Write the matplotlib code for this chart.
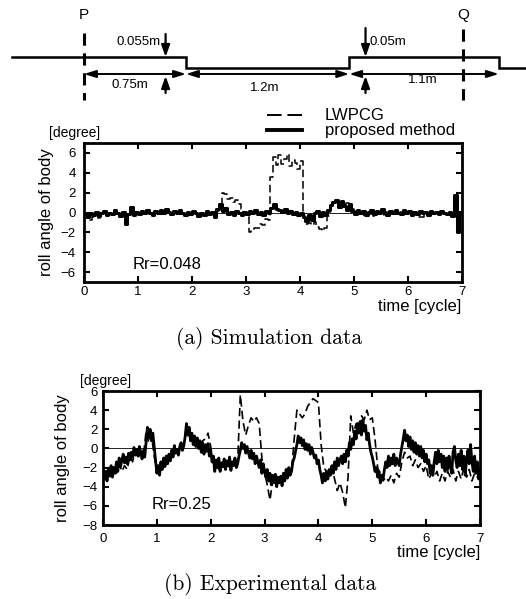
import numpy as np
import matplotlib
matplotlib.use("Agg")
import matplotlib.pyplot as plt

plt.rcParams['font.family'] = ['Liberation Sans', 'DejaVu Sans']

# === ROAD PROFILE SKETCH ===
seg_lengths = [0.75, 1.2, 1.1]          # m, from P
seg_labels = ["0.75m", "1.2m", "1.1m"]
bump_labels = ["0.055m", "0.05m"]
bump_arrow_pos = [0.60, 2.07]           # m from P
q_pos = 2.79                            # m from P

# === (a) SIMULATION DATA, roll angle [deg], every 0.05 cycle ===
sim_lwpcg = [
    -0.6, -0.4, -0.8, -0.5, -0.3, -0.6, -0.2, -0.1, -0.3, 0.0,
    -0.2, 0.1, -0.1, -0.3, -0.2, -0.6, -0.2, 0.2, -0.2, 0.0,
    -0.1, 0.1, -0.2, 0.1, -0.1, -0.2, 0.1, -0.1, 0.2, 0.0,
    0.3, 0.0, -0.1, 0.1, -0.2, 0.1, -0.1, -0.2, 0.0, -0.1,
    0.1, -0.2, -0.3, -0.1, -0.4, 0.0, -0.3, -0.1, -0.4, 0.2,
    0.4, 2.0, 1.9, 1.4, 1.5, 1.1, 1.3, 0.9, 0.4, -0.3,
    -0.5, -2.0, -1.9, -1.6, -1.6, -1.2, -1.3, -0.7, -0.8, 3.6,
    5.6, 4.8, 5.8, 4.9, 5.4, 5.9, 4.7, 5.3, 5.0, 4.4,
    5.2, -0.4, -1.2, -1.1, -1.3, -1.0, -1.5, -1.7, -1.9, -1.6,
    -0.4, 0.6, 1.0, 1.2, 0.9, 1.1, 0.8, 1.0, 0.7, 0.4,
    0.1, -0.2, 0.0, -0.3, -0.1, 0.1, -0.2, -0.4, -0.1, 0.1,
    -0.3, -0.1, 0.1, -0.2, 0.0, -0.3, -0.1, 0.1, -0.2, 0.0,
    -0.1, -0.3, -0.1, -0.4, -0.5, -0.5, -0.2, 0.0, -0.2, -0.1,
    0.0, -0.2, 0.1, -0.1, -0.2, 0.0, -0.1, 0.2, -0.2, 0.0,
    -0.1]
sim_proposed = [
    -0.2, -0.5, 0.0, -0.3, 0.1, -0.4, -0.1, 0.2, -0.3, 0.0,
    -0.2, 0.3, -0.1, -0.4, 0.1, -1.2, -0.2, 0.6, -0.3, 0.1,
    -0.2, 0.2, -0.1, 0.3, 0.0, -0.3, 0.2, -0.1, 0.3, 0.0,
    0.4, 0.1, -0.2, 0.2, -0.1, 0.3, 0.0, -0.3, 0.1, -0.2,
    0.2, -0.1, -0.4, 0.0, -0.3, 0.2, -0.2, 0.1, -0.5, 0.4,
    0.9, 0.2, 0.5, -0.2, 0.1, -0.3, 0.2, -0.1, -0.3, 0.1,
    -0.2, 0.2, -0.1, 0.3, -0.2, 0.1, -0.3, 0.2, 0.0, 0.5,
    0.9, 0.4, 0.3, 0.1, 0.4, -0.1, 0.2, -0.2, 0.1, -0.3,
    0.0, -0.5, -0.9, -0.3, -0.8, -0.1, 0.2, -0.4, 0.1, -0.3,
    0.3, 0.8, 1.1, 1.3, 0.6, 1.2, 0.7, 0.3, 0.9, 0.2,
    -0.2, 0.3, -0.1, 0.2, -0.3, 0.1, 0.3, -0.2, 0.2, -0.1,
    0.4, 0.0, -0.3, 0.2, -0.1, 0.3, 0.0, -0.2, 0.3, -0.1,
    0.2, -0.3, 0.1, -0.2, 0.2, -0.1, 0.1, -0.3, 0.2, -0.1,
    0.1, -0.2, 0.2, 0.0, -0.2, 0.1, -0.4, 1.8, -2.0, 0.1,
    -0.1]

# === (b) EXPERIMENTAL DATA, roll angle [deg] ===
# LWPCG every 0.05 cycle
exp_lwpcg = [
    -2.4, -3.2, -2.0, -2.6, -1.8, -2.6, -1.6, -2.4, -1.8, -2.2,
    -0.8, -1.4, -0.2, -1.0, -0.4, -0.8, 1.8, 0.6, 1.4, -0.8,
    -2.4, -1.6, -2.0, -1.0, -1.4, -0.6, -0.8, -0.2, -0.6, 0.4,
    0.2, 2.2, 1.0, 1.4, 0.6, 1.0, 0.2, 0.8, 1.0, 1.6,
    0.2, -2.0, -1.2, -2.2, -1.6, -2.0, -1.4, -2.0, -1.6, -1.2,
    -1.4, 5.6, 2.8, 1.4, 2.4, 3.2, 2.8, 3.2, 2.6, -1.0,
    -2.6, -3.8, -5.4, -3.4, -4.0, -3.4, -3.8, -3.0, -3.4, -2.8,
    -2.4, 1.0, 4.0, 3.6, 3.2, 3.6, 4.4, 4.8, 5.2, 5.0,
    4.8, 0.4, -2.0, -2.4, -2.8, -2.0, -3.2, -4.4, -3.6, -4.6,
    -6.2, -3.0, 3.4, 1.6, 2.6, 2.0, 3.4, 3.0, 4.0, 3.0,
    3.2, 1.0, -2.0, -2.8, -3.4, -3.0, -3.4, -2.8, -3.6, -2.6,
    -3.0, -1.4, -0.4, -1.0, -0.8, -1.8, -1.2, -2.0, -1.6, -2.4,
    -1.8, -3.2, -2.6, -3.0, -2.4, -3.4, -2.6, -3.4, -2.4, -3.0,
    -2.2, -3.4, -2.4, -3.2, -2.0, -3.0, -2.2, -3.4, -2.6, -3.0,
    -2.6]
# proposed method every 0.025 cycle
exp_proposed = [
    -2.0, -3.2, -2.4, -3.4, -2.1, -2.9, -1.8, -3.0, -2.0, -2.6,
    -1.4, -2.4, -1.0, -1.9, -1.3, -0.6, -1.5, -0.9, -1.6, -0.5,
    -1.2, -0.4, -0.9, 0.1, -0.7, -0.1, -0.8, 0.2, -0.4, -1.1,
    -0.2, -0.9, 0.6, 2.2, 1.1, 2.0, 0.8, 1.6, 0.2, -1.2,
    -2.6, -1.8, -2.8, -1.4, -2.2, -1.0, -1.9, -0.8, -1.6, -0.6,
    -1.3, -0.2, -0.9, 0.3, -0.5, -0.1, -0.7, 0.2, 0.6, -0.2,
    0.3, 1.2, 2.6, 1.4, 2.2, 0.8, 1.6, 0.4, 1.3, 0.2,
    1.1, 0.0, 0.8, -0.4, 0.6, -0.6, 0.4, -0.3, 0.5, -0.8,
    -0.2, -1.4, -0.8, -2.4, -1.2, -2.0, -1.0, -2.4, -1.5, -1.9,
    -1.1, -2.2, -1.3, -1.8, -0.9, -2.3, -1.4, -1.8, -1.0, -2.0,
    -1.6, -0.8, -0.2, 0.6, 0.0, 0.4, -0.5, 0.2, -0.4, -1.0,
    -0.2, -1.1, -0.5, -1.6, -0.8, -1.4, -2.0, -1.2, -2.6, -1.6,
    -2.4, -3.0, -2.2, -3.4, -2.6, -3.8, -2.8, -3.6, -2.7, -4.0,
    -3.0, -3.6, -2.9, -3.9, -2.6, -3.4, -2.2, -3.1, -2.0, -2.8,
    -2.4, -1.4, -1.0, -0.3, 0.4, 1.3, 0.6, 1.1, 0.3, 0.9,
    -0.1, 0.5, -0.2, 0.4, -0.6, 0.1, -0.4, -1.0, -0.7, -1.6,
    -1.2, -2.2, -2.8, -3.6, -2.6, -3.4, -2.4, -3.2, -2.2, -2.8,
    -1.8, -2.6, -1.4, -2.2, -1.0, -1.8, -1.2, -0.8, -1.6, -0.6,
    -1.4, -0.2, -0.8, 0.6, -0.1, 1.0, 0.4, 1.8, 1.0, 2.6,
    1.6, 2.8, 1.4, 3.0, 1.8, 2.4, 0.9, 1.6, 0.4, -0.4,
    -0.9, -1.6, -2.4, -2.0, -3.0, -2.4, -3.6, -2.8, -3.2, -2.2,
    -1.4, -2.0, -0.8, -1.8, -1.0, -1.6, -0.6, -1.8, -1.0, -1.4,
    -1.8, -0.6, 0.2, 1.0, 1.9, 0.8, 1.4, 0.2, 1.2, -0.1,
    0.8, -0.4, 0.6, -0.6, 0.3, -0.8, 0.2, -1.0, -0.2, -1.4,
    -0.6, -1.6, -1.2, -2.6, -1.8, -2.8, -1.4, -0.4, -1.6, -0.2,
    -1.4, -0.6, -2.0, -0.8, -2.4, -1.0, -2.2, -0.8, -1.8, -2.6,
    -0.4, 0.2, -1.2, -2.0, -0.6, -1.8, -0.2, -2.2, -0.8, -2.8,
    -1.2, -0.2, -1.6, 0.4, -1.4, -2.4, -0.8, -2.6, -1.4, -3.2,
    -2.4]

x_ticks = [0, 1, 2, 3, 4, 5, 6, 7]
sim_yticks = [-6, -4, -2, 0, 2, 4, 6]
exp_yticks = [-8, -6, -4, -2, 0, 2, 4, 6]

W, H = 526, 599
fig = plt.figure(figsize=(W / 100, H / 100), dpi=100)

# overlay in pixel coordinates for the sketch, legend and captions
ov = fig.add_axes([0, 0, 1, 1])
ov.set_xlim(0, W)
ov.set_ylim(H, 0)
ov.axis('off')
ov.patch.set_visible(False)

# --- road sketch ---
px_m = 136.0
x_p = 84.0
edges = x_p + px_m * np.concatenate([[0], np.cumsum(seg_lengths)])
up_y, low_y = 57, 68
road_x = [12, edges[1], edges[1], edges[2], edges[2], edges[3], edges[3], W]
road_y = [up_y, up_y, low_y, low_y, up_y, up_y, low_y, low_y]
ov.plot(road_x, road_y, color='k', lw=1.8, solid_joinstyle='miter')

x_q = x_p + px_m * q_pos
for xx, lab, y0 in [(x_p, "P", 33), (x_q, "Q", 29)]:
    ov.plot([xx, xx], [y0, 100], color='k', lw=2.2, linestyle=(0, (4, 2.5)))
    ov.text(xx, 15, lab, ha='center', va='center', fontsize=11)

dim_y = 74
for i, lab in enumerate(seg_labels):
    a = x_p if i == 0 else edges[i]
    b = edges[i + 1]
    ov.annotate('', xy=(b, dim_y), xytext=(a, dim_y),
                arrowprops=dict(arrowstyle='<|-|>,head_length=0.7,head_width=0.22',
                                color='k', lw=1.4, shrinkA=0, shrinkB=0))
label_pos = [(130, 85), (265, 88), (423, 80)]
for lab, (lx, ly) in zip(seg_labels, label_pos):
    ov.text(lx, ly, lab, ha='center', va='center', fontsize=9.5)

for i, (m, lab) in enumerate(zip(bump_arrow_pos, bump_labels)):
    xx = x_p + px_m * m
    ov.annotate('', xy=(xx, up_y), xytext=(xx, 34 if i == 0 else 28),
                arrowprops=dict(arrowstyle='-|>,head_length=0.7,head_width=0.25',
                                color='k', lw=1.6, shrinkA=0, shrinkB=0))
    ov.annotate('', xy=(xx, dim_y + 2), xytext=(xx, 93),
                arrowprops=dict(arrowstyle='-|>,head_length=0.7,head_width=0.25',
                                color='k', lw=1.6, shrinkA=0, shrinkB=0))
    if i == 0:
        ov.text(xx - 5, 42, lab, ha='right', va='center', fontsize=9.5)
    else:
        ov.text(xx + 4, 42, lab, ha='left', va='center', fontsize=9.5)

# --- legend ---
ov.plot([267, 302], [115, 115], color='k', lw=1.4, linestyle=(0, (7.5, 3)))
ov.plot([267, 302], [130, 130], color='k', lw=2.8)
ov.text(325, 115, "LWPCG", ha='left', va='center', fontsize=12)
ov.text(325, 130, "proposed method", ha='left', va='center', fontsize=12)

# --- axis texts ---
ov.text(49, 133, "[degree]", ha='left', va='center', fontsize=10)
ov.text(80, 381, "[degree]", ha='left', va='center', fontsize=10)
ov.text(47, 212, "roll angle of body", rotation=90, ha='center', va='center', fontsize=12)
ov.text(63, 458, "roll angle of body", rotation=90, ha='center', va='center', fontsize=12)
ov.text(461, 307, "time [cycle]", ha='right', va='center', fontsize=12)
ov.text(480, 553, "time [cycle]", ha='right', va='center', fontsize=12)
ov.text(269, 338, "(a) Simulation data", ha='center', va='center',
        fontsize=15.5, family='cmr10')
ov.text(270, 584, "(b) Experimental data", ha='center', va='center',
        fontsize=15.5, family='cmr10')


def style_axes(ax, yticks, ylim, ypad, xpad):
    ax.set_xlim(0, 7)
    ax.set_ylim(*ylim)
    ax.set_xticks(x_ticks)
    ax.set_yticks(yticks)
    ax.axhline(0, color='k', lw=0.6, zorder=1)
    ax.tick_params(direction='in', top=True, right=True, length=4, width=1.5,
                   labelsize=9.5)
    ax.tick_params(axis='y', pad=ypad)
    ax.tick_params(axis='x', pad=xpad)
    for sp in ax.spines.values():
        sp.set_linewidth(2)


# === (a) ===
ax1 = fig.add_axes([84 / W, 1 - 282 / H, 378 / W, 139 / H])
t_sim = np.linspace(0, 7, len(sim_proposed))
ax1.plot(t_sim, sim_lwpcg, color='k', lw=1.1, linestyle=(0, (5, 2.5)),
         drawstyle='steps-post', zorder=2)
ax1.plot(t_sim, sim_proposed, color='k', lw=2.2, drawstyle='steps-post', zorder=3)
style_axes(ax1, sim_yticks, (-7, 7), 6, 3)
ax1.text(0.9, -5.2, "Rr=0.048", ha='left', va='center', fontsize=12)

# === (b) ===
ax2 = fig.add_axes([103 / W, 1 - 525 / H, 377 / W, 134 / H])
t_lw = np.linspace(0, 7, len(exp_lwpcg))
t_pr = np.linspace(0, 7, len(exp_proposed))
ax2.plot(t_lw, exp_lwpcg, color='k', lw=1.2, linestyle=(0, (5, 2.5)), zorder=2)
ax2.plot(t_pr, exp_proposed, color='k', lw=2.0, zorder=3)
style_axes(ax2, exp_yticks, (-8, 6), 4, 6)
ax2.text(0.91, -5.9, "Rr=0.25", ha='left', va='center', fontsize=12)

fig.savefig("out.png", dpi=100)
